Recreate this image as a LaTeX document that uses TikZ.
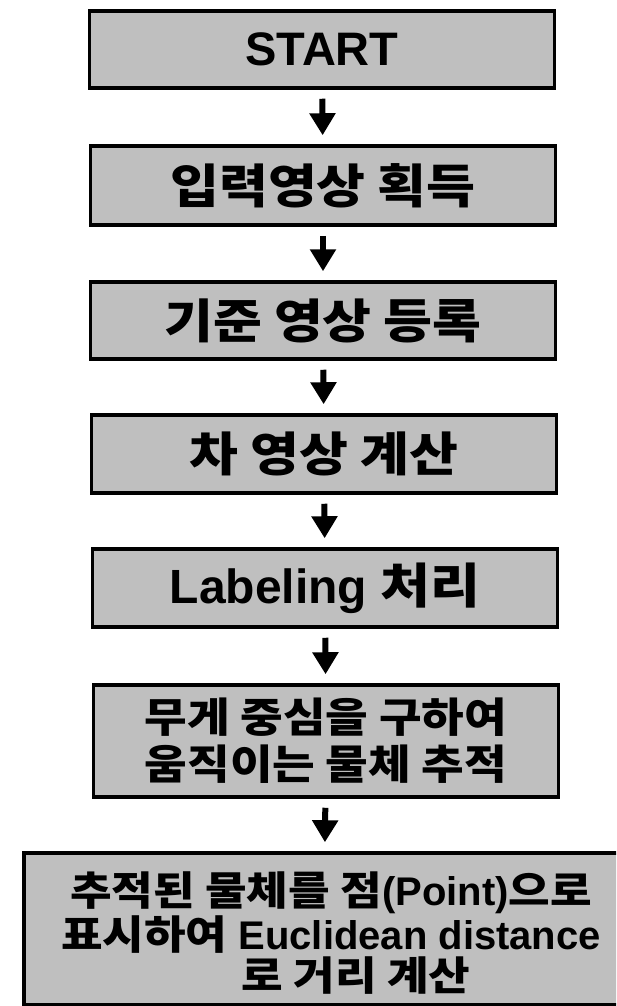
\documentclass[tikz,border=0pt]{standalone}
\usepackage{fontspec}
\setmainfont{Liberation Sans}
\newfontfamily\kr{Noto Sans CJK KR}[FakeStretch=1.13]
\usetikzlibrary{arrows.meta}
\definecolor{dotfill}{gray}{0.75}
\tikzset{
  flowbox/.style={draw=black, line width=3.5pt, fill=dotfill, rectangle,
    minimum width=465pt, inner sep=0pt, align=center},
  flowarr/.style={line width=6pt, -{Triangle[width=25pt,length=22pt]},
    shorten <=9pt, shorten >=9pt},
  bigtxt/.style={font=\bfseries\fontsize{47}{50}\selectfont},
  midtxt/.style={font=\bfseries\fontsize{41}{47}\selectfont},
}
\begin{document}
\begin{tikzpicture}[x=1pt,y=-1pt]
\useasboundingbox (0,0) rectangle (616,1006);
\clip (0,0) rectangle (616,1006);
\node[flowbox, minimum height=77pt, font=\bfseries\fontsize{47}{50}\selectfont] (b1) at (322,49.5)
  {START};
\node[flowbox, bigtxt, minimum height=79pt] (b2) at (323,185.5)
  {\kr 입력영상 획득};
\node[flowbox, bigtxt, minimum height=77pt] (b3) at (323,320.5)
  {\kr 기준 영상 등록};
\node[flowbox, bigtxt, minimum height=78pt] (b4) at (324,454)
  {\kr 차 영상 계산};
\node[flowbox, minimum height=78pt, font=\bfseries\fontsize{48}{50}\selectfont] (b5) at (325,588)
  {Labeling {\kr 처리}};
\node[flowbox, midtxt, minimum height=112pt] (b6) at (326,741)
  {{\kr 무게 중심을 구하여}\\{\kr 움직이는 물체 추적}};
\node[flowbox, minimum width=600pt, minimum height=152pt] (b7) at (324,929) {};
\node[align=center, font=\bfseries\fontsize{40}{41}\selectfont] (t7) at (331,933)
  {{\kr 추적된 물체를 점}(Point){\kr 으로}\\
   {\kr 표시하여} Euclidean distance\\
   \hspace*{50pt}{\kr 로 거리 계산}};
\draw[flowarr] (b1) -- (b2);
\draw[flowarr] (b2) -- (b3);
\draw[flowarr] (b3) -- (b4);
\draw[flowarr] (b4) -- (b5);
\draw[flowarr] (b5) -- (b6);
\draw[flowarr] (b6) -- (b7);
\end{tikzpicture}
\end{document}
